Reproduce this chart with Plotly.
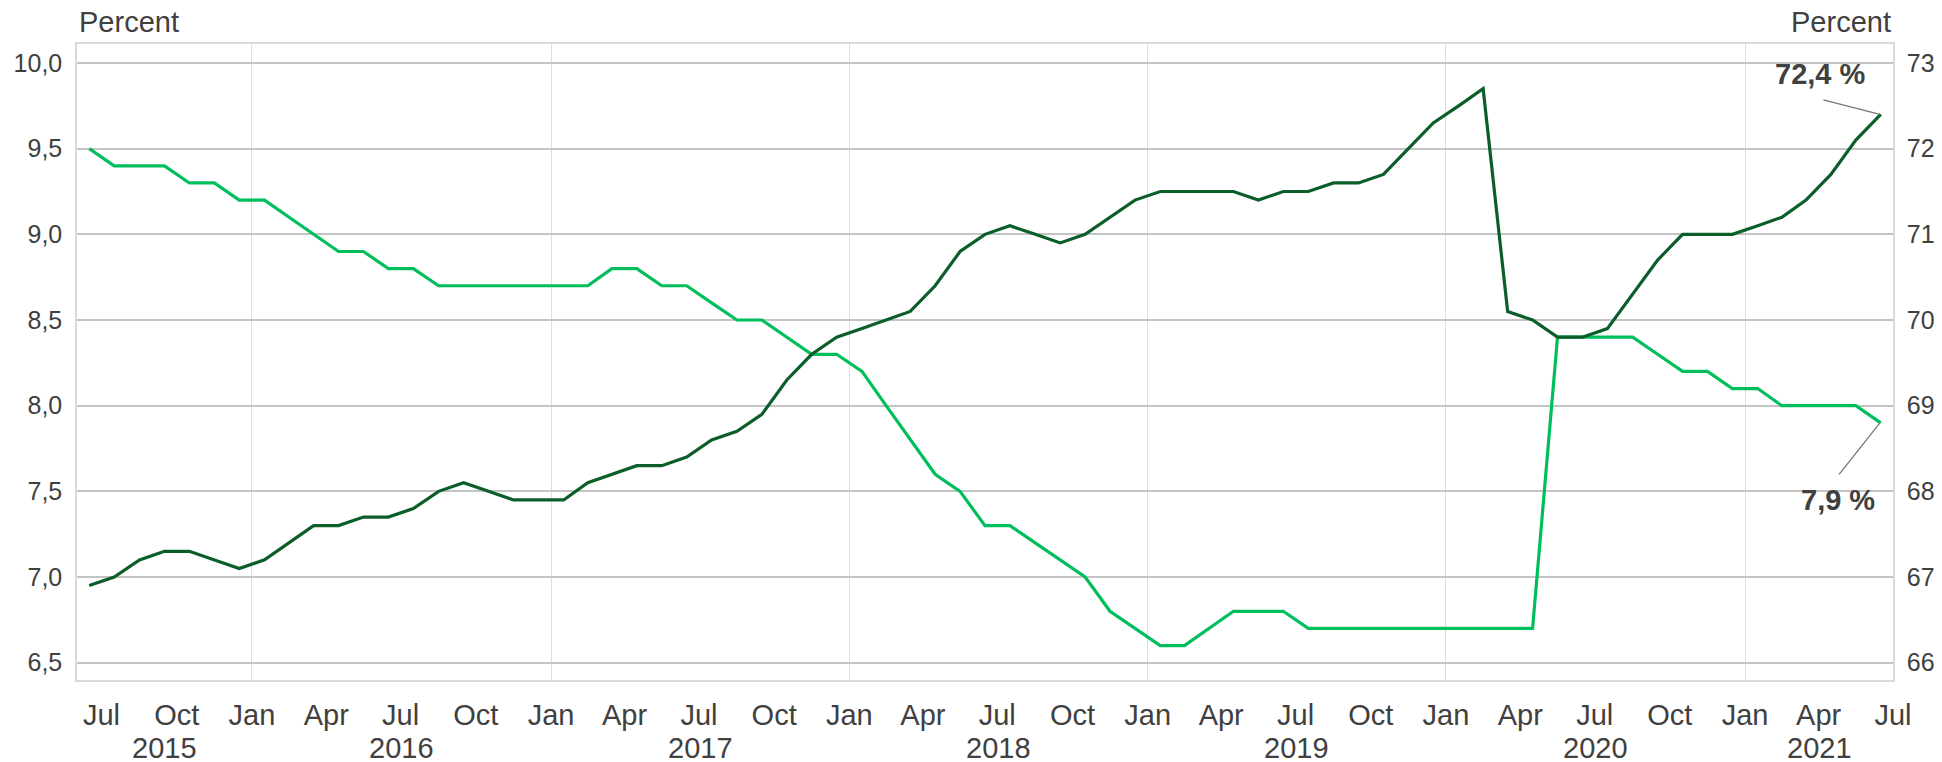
import pandas as pd
import plotly.graph_objects as go

# ---- data (monthly, Jun 2015 - Jun 2021) ----
start_month = "2015-06-01"
n_months = 73
unemployment = [
    9.5, 9.4, 9.4, 9.4, 9.3, 9.3, 9.2,            # Jun-Dec 2015
    9.2, 9.1, 9.0, 8.9, 8.9, 8.8, 8.8, 8.7, 8.7, 8.7, 8.7, 8.7,   # 2016
    8.7, 8.7, 8.8, 8.8, 8.7, 8.7, 8.6, 8.5, 8.5, 8.4, 8.3, 8.3,   # 2017
    8.2, 8.0, 7.8, 7.6, 7.5, 7.3, 7.3, 7.2, 7.1, 7.0, 6.8, 6.7,   # 2018
    6.6, 6.6, 6.7, 6.8, 6.8, 6.8, 6.7, 6.7, 6.7, 6.7, 6.7, 6.7,   # 2019
    6.7, 6.7, 6.7, 6.7, 8.4, 8.4, 8.4, 8.4, 8.3, 8.2, 8.2, 8.1,   # 2020
    8.1, 8.0, 8.0, 8.0, 8.0, 7.9,                                 # Jan-Jun 2021
]
employment = [
    66.9, 67.0, 67.2, 67.3, 67.3, 67.2, 67.1,                     # Jun-Dec 2015
    67.2, 67.4, 67.6, 67.6, 67.7, 67.7, 67.8, 68.0, 68.1, 68.0, 67.9, 67.9,  # 2016
    67.9, 68.1, 68.2, 68.3, 68.3, 68.4, 68.6, 68.7, 68.9, 69.3, 69.6, 69.8,  # 2017
    69.9, 70.0, 70.1, 70.4, 70.8, 71.0, 71.1, 71.0, 70.9, 71.0, 71.2, 71.4,  # 2018
    71.5, 71.5, 71.5, 71.5, 71.4, 71.5, 71.5, 71.6, 71.6, 71.7, 72.0, 72.3,  # 2019
    72.5, 72.7, 70.1, 70.0, 69.8, 69.8, 69.9, 70.3, 70.7, 71.0, 71.0, 71.0,  # 2020
    71.1, 71.2, 71.4, 71.7, 72.1, 72.4,                           # Jan-Jun 2021
]
label_unemp = "7,9 %"
label_emp = "72,4 %"
axis_title = "Percent"
x_range = ["2015-06-01", "2021-07-01"]
left_range = [6.399, 10.111]
right_range = [65.798, 73.222]
left_ticks = [6.5, 7.0, 7.5, 8.0, 8.5, 9.0, 9.5, 10.0]
right_ticks = [66, 67, 68, 69, 70, 71, 72, 73]
years = [2015, 2016, 2017, 2018, 2019, 2020, 2021]

months = pd.date_range(start_month, periods=n_months, freq="MS")

LIGHT = "#00BE5C"
DARK = "#0B5E2A"
TEXT = "#404040"
FONT = "Liberation Sans, Arial, sans-serif"

fig = go.Figure()
fig.add_trace(go.Scatter(
    x=months, y=unemployment, mode="lines", yaxis="y",
    xperiod="M1", xperiodalignment="middle",
    line=dict(color=LIGHT, width=3.2), showlegend=False, name="Unemployment"))
fig.add_trace(go.Scatter(
    x=months, y=employment, mode="lines", yaxis="y2",
    xperiod="M1", xperiodalignment="middle",
    line=dict(color=DARK, width=3.2), showlegend=False, name="Employment"))

jan_lines = [f"{y}-01-01" for y in years if pd.Timestamp(f"{y}-01-01") > pd.Timestamp(x_range[0])]

fig.update_layout(
    width=1942, height=762,
    margin=dict(l=77, r=49, t=44, b=82, autoexpand=False),
    paper_bgcolor="white", plot_bgcolor="white",
    font=dict(family=FONT, size=25, color=TEXT),
    xaxis=dict(
        range=x_range, type="date", automargin=False,
        tickformat="%b", dtick="M3", tick0="2015-01-01",
        tickfont=dict(size=29),
        showgrid=False, ticks="", ticklabelstandoff=8,
        showline=True, mirror=True, linecolor="#dadada", linewidth=1.5,
        minor=dict(tickvals=jan_lines, showgrid=True, gridcolor="#dedede", gridwidth=1.2, ticks=""),
        zeroline=False,
    ),
    yaxis=dict(
        range=left_range, tickvals=left_ticks, automargin=False,
        ticktext=[f"{v:.1f}".replace(".", ",") for v in left_ticks],
        tickfont=dict(size=25),
        showgrid=True, gridcolor="#c4c4c4", gridwidth=1.5,
        showline=True, linecolor="#dadada", linewidth=1.5,
        ticks="", ticklabelstandoff=8, zeroline=False,
    ),
    yaxis2=dict(
        range=right_range, tickvals=right_ticks, automargin=False,
        ticktext=[str(v) for v in right_ticks],
        tickfont=dict(size=25),
        overlaying="y", side="right", showgrid=False,
        showline=True, linecolor="#dadada", linewidth=1.5,
        ticks="", ticklabelstandoff=7, zeroline=False,
    ),
)

annotations = []
# axis titles
annotations.append(dict(text=axis_title, xref="paper", yref="paper", x=0, y=1,
                        xanchor="left", yanchor="middle", yshift=22, showarrow=False,
                        font=dict(size=29, color=TEXT)))
annotations.append(dict(text=axis_title, xref="paper", yref="paper", x=1, y=1,
                        xanchor="right", yanchor="middle", yshift=22, showarrow=False,
                        font=dict(size=29, color=TEXT)))
# year labels centred on each year's visible span
r0, r1 = pd.Timestamp(x_range[0]), pd.Timestamp(x_range[1])
for y in years:
    a = max(pd.Timestamp(f"{y}-01-01"), r0)
    b = min(pd.Timestamp(f"{y+1}-01-01"), r1)
    mid = a + (b - a) / 2
    annotations.append(dict(text=str(y), x=mid, xref="x", yref="paper", y=0,
                            yanchor="middle", yshift=-68, showarrow=False,
                            font=dict(size=29, color=TEXT)))
# end-value labels: leader lines + bold text
last_x = months[-1] + pd.Timedelta(days=14)
annotations.append(dict(text="", x=last_x, y=employment[-1], xref="x", yref="y2",
                        showarrow=True, arrowhead=0, arrowwidth=1.3,
                        arrowcolor="#777777", ax=-58, ay=-15))
annotations.append(dict(text=f"<b>{label_emp}</b>", x=last_x, y=employment[-1],
                        xref="x", yref="y2", showarrow=False,
                        xanchor="center", yanchor="middle", xshift=-59, yshift=40,
                        font=dict(size=29, color=TEXT)))
annotations.append(dict(text="", x=last_x, y=unemployment[-1], xref="x", yref="y",
                        showarrow=True, arrowhead=0, arrowwidth=1.3,
                        arrowcolor="#777777", ax=-42, ay=53))
annotations.append(dict(text=f"<b>{label_unemp}</b>", x=last_x, y=unemployment[-1],
                        xref="x", yref="y", showarrow=False,
                        xanchor="center", yanchor="middle", xshift=-42, yshift=-77,
                        font=dict(size=29, color=TEXT)))
fig.update_layout(annotations=annotations)

fig.write_html("out.html", config={"displayModeBar": False},
               post_script="document.body.style.margin='0px';")
